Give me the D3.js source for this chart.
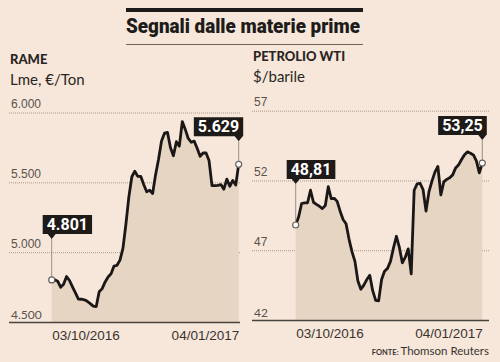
<!DOCTYPE html>
<html lang="it">
<head>
<meta charset="UTF-8">
<title>Segnali dalle materie prime</title>
<script src="https://cdn.jsdelivr.net/npm/d3@7"></script>
<style>
    body{ margin:0; background:#f6e7da; }
    svg{ display:block; font-family: Lato, "Open Sans", sans-serif; }
    .grid line{ stroke:#a8988a; stroke-width:1; stroke-dasharray:1,1; }
    .grid text{ fill:#5a524c; font-size:12px; }
    .xaxis text{ fill:#3a3430; font-size:13.5px; }
    .callout text{ fill:#fff; font-family: Roboto, sans-serif; font-weight:700; font-size:16px; }
</style>
</head>
<body>
<script>
// dati
var dateLabels = ["03/10/2016", "04/01/2017"];

var rameTicks = [4500, 5000, 5500, 6000];
var rameValues = [
    4801, 4803, 4792, 4749, 4770, 4826, 4797, 4752, 4708, 4664,
    4663, 4659, 4648, 4632, 4614, 4611, 4717, 4739, 4787, 4822,
    4845, 4901, 4906, 4943, 5027, 5200, 5397, 5540, 5580, 5543,
    5543, 5485, 5433, 5443, 5420, 5555, 5665, 5796, 5852, 5858,
    5750, 5690, 5791, 5759, 5935, 5879, 5814, 5787, 5795, 5744,
    5686, 5710, 5710, 5657, 5476, 5476, 5478, 5484, 5451, 5523,
    5472, 5514, 5480, 5629
];

var petrolioTicks = [42, 47, 52, 57];
var petrolioValues = [
    48.81, 49.40, 50.35, 50.40, 50.40, 51.30, 50.44, 50.29, 50.15, 49.98,
    50.20, 51.55, 50.70, 50.72, 50.50, 49.80, 49.20, 48.90, 47.80, 46.90,
    46.20, 44.80, 44.20, 44.50, 44.90, 45.20, 44.10, 43.40, 43.37, 44.90,
    45.50, 45.70, 46.20, 47.15, 48.00, 47.20, 46.10, 46.50, 47.10, 45.30,
    51.30, 51.75, 51.80, 51.35, 49.80, 51.20, 51.95, 52.60, 53.00, 50.96,
    51.90, 52.08, 52.20, 52.40, 52.90, 53.12, 53.50, 53.85, 54.05, 53.95,
    53.83, 53.40, 52.55, 53.25
];

var fmt = d3.formatLocale({decimal: ",", thousands: ".", grouping: [3], currency: ["", "€"]});

var width = 500, height = 362;
var svg = d3.select("body").append("svg")
        .attr("width", width)
        .attr("height", height);

svg.append("rect").attr("width", width).attr("height", height).attr("fill", "#f6e7da");

// titolo
svg.append("rect").attr("x", 126).attr("y", 8).attr("width", 237).attr("height", 4).attr("fill", "#1e1c1b");
svg.append("text")
        .attr("x", 126).attr("y", 33)
        .attr("textLength", 234).attr("lengthAdjust", "spacingAndGlyphs")
        .style("font-family", "Roboto, sans-serif").style("font-weight", 900).style("font-size", "20px")
        .attr("fill", "#1e1c1b")
        .text("Segnali dalle materie prime");
svg.append("line").attr("x1", 126).attr("x2", 363).attr("y1", 44.5).attr("y2", 44.5)
        .attr("stroke", "#6a625c").attr("stroke-width", 1);

function drawPanel(cfg){
    var g = svg.append("g");

    g.append("text").attr("x", cfg.left + 1).attr("y", cfg.titleY)
            .style("font-weight", 900).style("font-size", "13px").attr("fill", "#2a2522")
            .text(cfg.title);
    g.append("text").attr("x", cfg.left + 1).attr("y", cfg.titleY + 21)
            .style("font-size", "15px").attr("fill", "#2a2522")
            .text(cfg.unit);

    var x = d3.scaleLinear()
            .domain([0, cfg.values.length - 1])
            .range([cfg.x0, cfg.x1]);
    var y = d3.scaleLinear()
            .domain(d3.extent(cfg.ticks))
            .range([cfg.bottom, cfg.top]);

    // griglia
    var gridAxis = d3.axisRight(y)
            .tickValues(cfg.ticks.slice(1))
            .tickSize(cfg.right - cfg.left)
            .tickFormat(cfg.tickFormat);
    var grid = g.append("g").attr("class", "grid")
            .attr("transform", "translate(" + cfg.left + ",0)")
            .call(gridAxis);
    grid.select(".domain").remove();
    grid.selectAll("text").attr("x", 2).attr("dy", "-0.4em").attr("text-anchor", "start");

    // etichetta minimo (sulla linea di base)
    g.append("text")
            .attr("x", cfg.left + 2).attr("y", y(cfg.ticks[0]) - 3)
            .style("fill", "#5a524c").style("font-size", "12px")
            .text(cfg.tickFormat(cfg.ticks[0]));

    var area = d3.area()
            .x(function(d, i){ return x(i); })
            .y0(y(cfg.ticks[0]))
            .y1(function(d){ return y(d); });
    g.append("path").attr("d", area(cfg.values)).attr("fill", "#e7d5c3");

    // asse x
    var xAxis = d3.axisBottom(x)
            .tickValues([0, cfg.values.length - 1])
            .tickSize(0)
            .tickPadding(8)
            .tickFormat(function(d, i){ return dateLabels[i]; });
    var xa = g.append("g").attr("class", "xaxis")
            .attr("transform", "translate(0," + y(cfg.ticks[0]) + ")")
            .call(xAxis);
    xa.select(".domain").remove();
    xa.selectAll("text").attr("text-anchor", function(d, i){ return i === 0 ? "start" : "end"; });
    g.append("line")
            .attr("x1", cfg.left).attr("x2", cfg.right)
            .attr("y1", y(cfg.ticks[0]) + 0.5).attr("y2", y(cfg.ticks[0]) + 0.5)
            .attr("stroke", "#4a4440").attr("stroke-width", 1.5);

    var line = d3.line()
            .x(function(d, i){ return x(i); })
            .y(function(d){ return y(d); });
    g.append("path").attr("d", line(cfg.values))
            .attr("fill", "none").attr("stroke", "#1a1716")
            .attr("stroke-width", 2.8).attr("stroke-linejoin", "round");

    // etichette primo e ultimo valore
    [{i: 0, rise: 47, side: "left"}, {i: cfg.values.length - 1, rise: 29, side: "right"}].forEach(function(c){
        var v = cfg.values[c.i];
        var mx = x(c.i), my = y(v);
        var tipY = my - c.rise + 6;
        var boxBottom = tipY - 5;
        var boxH = 19;
        var cg = g.append("g").attr("class", "callout");
        cg.append("line").attr("x1", mx).attr("x2", mx).attr("y1", tipY).attr("y2", my)
                .attr("stroke", "#9a8e84").attr("stroke-width", 1);
        var t = cg.append("text").attr("y", boxBottom - 4).text(cfg.valueFormat(v));
        var w = t.node().getComputedTextLength() + 8;
        var bx = c.side === "left" ? mx - 9 : mx + 4.5 - w;
        t.attr("x", bx + w / 2).attr("text-anchor", "middle");
        cg.insert("path", "text")
                .attr("d", "M" + bx + "," + (boxBottom - boxH) + "h" + w + "v" + boxH +
                        "H" + (mx + 4) + "L" + mx + "," + tipY + "L" + (mx - 4) + "," + boxBottom +
                        "H" + bx + "Z")
                .attr("fill", "#1e1a18");
        cg.append("circle").attr("cx", mx).attr("cy", my).attr("r", 3)
                .attr("fill", "#fff").attr("stroke", "#6a625c").attr("stroke-width", 1.2);
    });
}

drawPanel({
    title: "RAME", unit: "Lme, €/Ton", titleY: 64,
    values: rameValues, ticks: rameTicks,
    left: 9, right: 240, x0: 51.7, x1: 238.7, top: 112.5, bottom: 322,
    tickFormat: fmt.format(",d"), valueFormat: fmt.format(",d")
});

drawPanel({
    title: "PETROLIO WTI", unit: "$/barile", titleY: 61,
    values: petrolioValues, ticks: petrolioTicks,
    left: 252, right: 489, x0: 295.7, x1: 482.3, top: 110.7, bottom: 320,
    tickFormat: fmt.format("d"), valueFormat: fmt.format(".2f")
});

// fonte
var src = svg.append("text").attr("x", 489).attr("y", 355).attr("text-anchor", "end")
        .style("font-size", "11.5px").attr("fill", "#3a3430");
src.append("tspan").style("font-size", "7.5px").style("font-weight", 700).text("FONTE: ");
src.append("tspan").text("Thomson Reuters");
</script>
</body>
</html>
